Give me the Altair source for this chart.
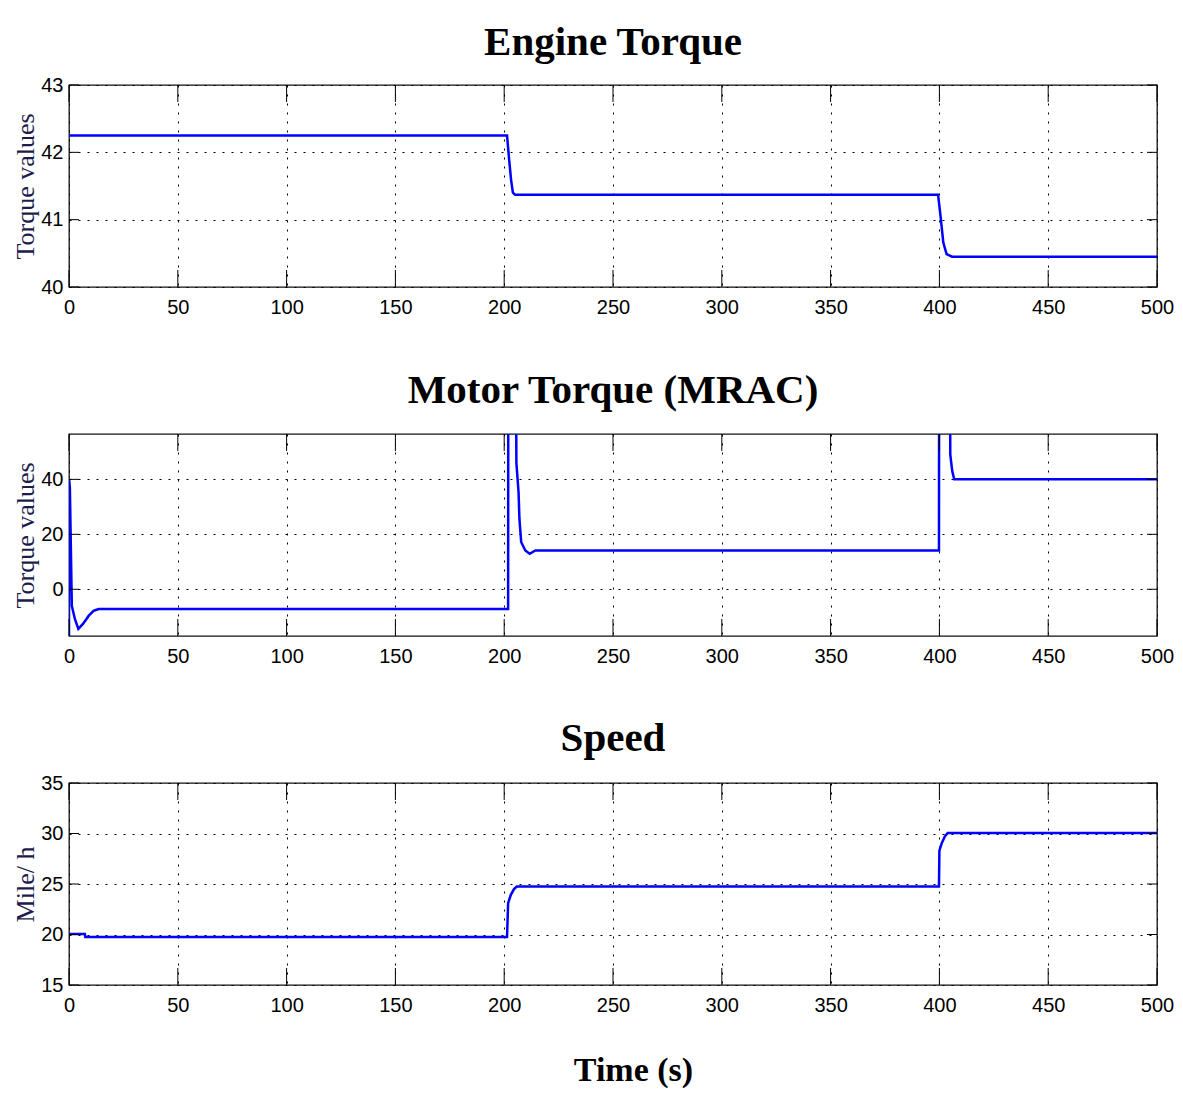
import altair as alt
import pandas as pd

# ---------------- data ----------------
x_ticks = [0, 50, 100, 150, 200, 250, 300, 350, 400, 450, 500]

engine_t = [0, 201.3, 202.3, 203.2, 204.0, 205.0, 399.4, 400.6, 401.8, 403.3, 405.8, 500]
engine_v = [42.25, 42.25, 41.88, 41.58, 41.40, 41.37, 41.37, 41.03, 40.66, 40.49, 40.45, 40.45]
engine_yticks = [40, 41, 42, 43]
engine_domain = [40, 43]

motor_t = [0, 0.05, 0.4, 0.9, 1.3, 2.7, 4.3, 6.5, 9.1, 11.4, 13.7,
           201.8, 201.9, 205.3, 205.6, 206.6, 207.0, 207.8, 209.7, 211.7, 214.3,
           399.8, 399.9, 404.8, 405.0, 405.9, 406.8, 500]
motor_v = [-18, 40, 37, 13, -6, -10.8, -14.4, -12.5, -9.6, -7.8, -7.2,
           -7.2, 100, 100, 46, 35.3, 25.6, 17.2, 14.1, 12.9, 14.1,
           14.1, 100, 100, 49, 43, 40, 40]
motor_yticks = [0, 20, 40]
motor_domain = [-17, 56.5]

speed_t = [0, 7.3, 7.5, 201.3, 201.8, 203.0, 204.5, 205.8, 399.8, 400.0, 401.0, 402.5, 403.8, 500]
speed_v = [20.05, 20.05, 19.75, 19.75, 23.1, 23.9, 24.5, 24.75, 24.75, 28.3, 29.0, 29.7, 30.05, 30.05]
speed_yticks = [15, 20, 25, 30, 35]
speed_domain = [15, 35]

titles = ["Engine Torque", "Motor Torque (MRAC)", "Speed"]
y_titles = ["Torque values", "Torque values", "Mile/ h"]
x_title = "Time (s)"

# ---------------- style ----------------
W, H = 1088, 202
LINE_COLOR = "#0000ff"
TICK_FONT = "Liberation Sans, Arial, sans-serif"
SERIF = "Liberation Serif, Times New Roman, serif"
YT_COLOR = "#1c1c4c"


def panel(title, t, v, domain, yticks, ytitle, xtitle="", title_offset=11):
    df = pd.DataFrame({"t": t, "v": v})
    xs = alt.Scale(domain=[0, 500], nice=False, zero=False)
    ys = alt.Scale(domain=domain, nice=False, zero=False)

    xaxis = alt.Axis(
        values=x_ticks, format="d", grid=True, gridDash=[2, 7], gridColor="black",
        gridOpacity=1, gridWidth=1, ticks=False, domain=False, labelFlush=False,
        labelOverlap=False, labelFont=TICK_FONT, labelFontSize=20, labelColor="black",
        labelPadding=10,
        title=xtitle, titleFont=SERIF, titleFontSize=34, titleFontWeight="bold",
        titleColor="black", titlePadding=38, titleX=564,
    )
    yaxis = alt.Axis(
        values=yticks, format="d", grid=True, gridDash=[2, 7], gridColor="black",
        gridOpacity=1, gridWidth=1, ticks=False, domain=False, labelOverlap=False,
        labelFont=TICK_FONT, labelFontSize=20, labelColor="black", labelPadding=6,
        title=ytitle, titleFont=SERIF, titleFontSize=26, titleFontWeight="normal",
        titleColor=YT_COLOR, titleX=-44, titleY=H / 2, titleBaseline="middle",
        titleAngle=270,
    )

    line = alt.Chart(df).mark_line(color=LINE_COLOR, strokeWidth=2.5, clip=True).encode(
        x=alt.X("t:Q", scale=xs, axis=xaxis),
        y=alt.Y("v:Q", scale=ys, axis=yaxis),
    )

    xt = pd.DataFrame({"t": x_ticks})
    yt = pd.DataFrame({"v": yticks})
    tb = alt.Chart(xt).mark_rule(color="black", strokeWidth=1).encode(
        x=alt.X("t:Q", scale=xs), y=alt.value(H), y2=alt.value(H - 17))
    tt = alt.Chart(xt).mark_rule(color="black", strokeWidth=1).encode(
        x=alt.X("t:Q", scale=xs), y=alt.value(0), y2=alt.value(17))
    tl = alt.Chart(yt).mark_rule(color="black", strokeWidth=1).encode(
        y=alt.Y("v:Q", scale=ys), x=alt.value(0), x2=alt.value(10))
    tr = alt.Chart(yt).mark_rule(color="black", strokeWidth=1).encode(
        y=alt.Y("v:Q", scale=ys), x=alt.value(W), x2=alt.value(W - 10))

    return alt.layer(line, tb, tt, tl, tr).properties(
        width=W, height=H,
        title=alt.TitleParams(title, font=SERIF, fontSize=41, fontWeight="bold",
                              color="black", anchor="middle", frame="group",
                              offset=title_offset),
    )


p1 = panel(titles[0], engine_t, engine_v, engine_domain, engine_yticks, y_titles[0])
p2 = panel(titles[1], motor_t, motor_v, motor_domain, motor_yticks, y_titles[1],
           title_offset=22)
p3 = panel(titles[2], speed_t, speed_v, speed_domain, speed_yticks, y_titles[2], x_title,
           title_offset=13)

chart = alt.vconcat(p1, p2, p3, spacing=147, bounds="flush").properties(
    padding={"left": 3, "top": 13, "right": 0, "bottom": 0},
    background="white",
).configure_view(stroke="#111111", strokeWidth=1.3)

chart.save("out.html", embed_options={"renderer": "svg", "actions": False})
